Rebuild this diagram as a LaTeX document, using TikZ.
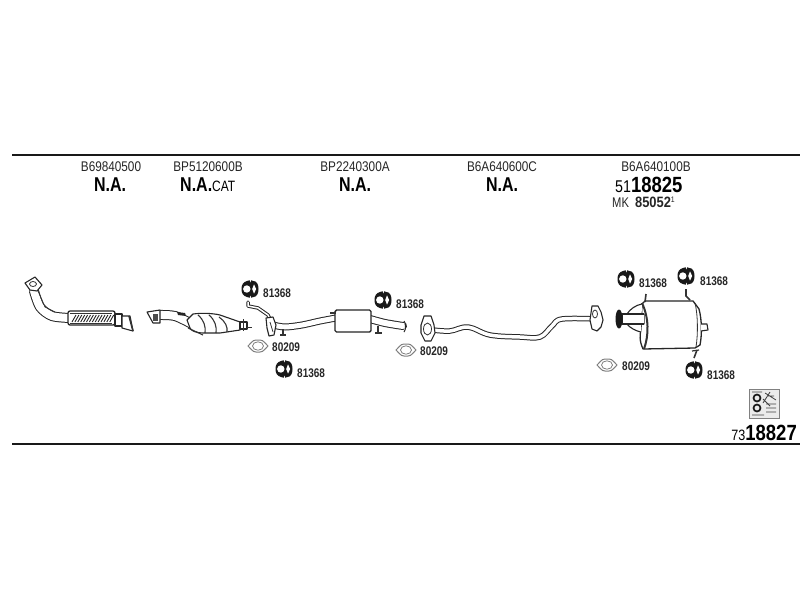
\documentclass[tikz,border=0pt]{standalone}
\usepackage{fontspec}
\setmainfont{Liberation Sans}
\newfontfamily\condf[FakeStretch=0.8]{Liberation Sans}
\newfontfamily\condg[FakeStretch=0.84]{Liberation Sans}
\newfontfamily\condh[FakeStretch=0.86]{Liberation Sans}
\newcommand{\tubepath}[2]{%
  \draw[line width=#1pt,black!85,line cap=round,line join=round] #2;
  \pgfmathsetmacro{\tubein}{#1-2}%
  \draw[line width=\tubein pt,white,line cap=round,line join=round] #2;}
\tikzset{
  x=1pt,y=-1pt,
  rule/.style={line width=2pt,black!90},
  partno/.style={inner sep=0pt,font=\condg\fontsize{14}{14}\selectfont,text=black!85},
  bignum/.style={inner sep=0pt,font=\condf\bfseries\fontsize{20}{20}\selectfont,text=black},
  hugenum/.style={inner sep=0pt,font=\condg\bfseries\fontsize{22}{22}\selectfont,text=black},
  lab/.style={inner sep=0pt,anchor=west,font=\condf\bfseries\fontsize{12.5}{12}\selectfont,text=black!85},
  part/.style={draw=black!85,line width=1.1pt,fill=white,line join=round},
  thin/.style={draw=black!80,line width=0.8pt},
  hanger/.pic={
    \fill[black!90] (-3,-8) .. controls (-1,-9.5) and (2,-9) .. (3.5,-8) .. controls (7,-8) and (8.5,-4) .. (8.5,0) .. controls (8.5,4) and (7,8) .. (3.5,8) .. controls (2,9) and (-1,9.5) .. (-3,8) .. controls (-7,7) and (-8.5,4) .. (-8.5,0) .. controls (-8.5,-4) and (-7,-7) .. (-3,-8) -- cycle;
    \fill[white] (-3.2,0) circle (3.7);
    \fill[white] (4,-4.6) -- (6.2,0) -- (4,4.6) -- (2.2,0) -- cycle;
    \fill[white] (-0.3,-9) -- (1.2,-9) -- (0.4,-6.5) -- cycle;
    \fill[white] (-0.3,9) -- (1.2,9) -- (0.4,6.5) -- cycle;
  },
  gasket/.pic={
    \draw[black!50,line width=1pt] (-10,0) .. controls (-7,-2) and (-6,-6) .. (-2,-6) -- (2,-6) .. controls (6,-6) and (7,-2) .. (10,0) .. controls (7,2) and (6,6) .. (2,6) -- (-2,6) .. controls (-6,6) and (-7,2) .. (-10,0) -- cycle;
    \draw[black!55,line width=0.7pt] (0,0) ellipse (5.5 and 4.2);
  },
}
\begin{document}
\begin{tikzpicture}
\useasboundingbox (0,0) rectangle (800,600);
\fill[white] (0,0) rectangle (800,600);
\draw[rule] (12,155) -- (800,155);
\draw[rule] (12,444) -- (800,444);

% header texts
\node[partno] (p1) at (111,167) {B69840500};
\node[partno] (p2) at (208,167) {BP5120600B};
\node[partno] (p3) at (355,167) {BP2240300A};
\node[partno] (p4) at (502,167) {B6A640600C};
\node[partno] (p5) at (656,167) {B6A640100B};
\node[bignum] (n1) at (110,185) {N.A.};
\node[bignum,anchor=west] (n2) at (180,185) {N.A.{\mdseries\fontsize{15}{15}\selectfont CAT}};
\node[bignum] (n3) at (355,184.5) {N.A.};
\node[bignum] (n4) at (502,185) {N.A.};
\node[hugenum,anchor=west] (n5) at (615,185) {{\mdseries\fontsize{17}{17}\selectfont 51}18825};
\node[lab,anchor=west,font=\condh\bfseries\fontsize{15}{13}\selectfont] (n6) at (612,202.5) {{\condf\mdseries\fontsize{14}{13}\selectfont MK} \,85052\raisebox{5pt}{\mdseries\fontsize{8}{8}\selectfont 1}};

% part 1: front pipe
\tubepath{10}{plot[smooth] coordinates {(34,291) (40,307) (52,316) (70,318)}}
\draw[thin] (38,291) -- (45,307) -- (55,312);
\draw[part] (25,283) -- (35,277) -- (42,285) -- (37,291) -- (30,290) -- cycle;
\fill[white] (33,284) ellipse (3.5 and 2.5);
\draw[thin] (33,284) ellipse (3.5 and 2.5);
\draw[part,line width=1.3pt,rounded corners=2pt] (68,311) rectangle (115,325);
\foreach \i in {0,...,13} {\draw[black!85,line width=0.9pt] (72+\i*2.9,322) -- (76+\i*2.9,315);}
\draw[thin] (70,313.5) -- (112,313.5) (70,323) -- (112,323);
\draw[part] (115,314) rectangle (122,326);
\draw[part] (122,316) -- (130,316) -- (133,331) -- (122,328) -- cycle;
\draw[thin,line width=1.6pt] (129,316) -- (133,331);

% part 2: catalyst
\tubepath{10}{plot[smooth] coordinates {(160,315) (175,316) (192,324)}}
\draw[part] (147,312) -- (160,310) -- (160,323) -- (153,323) -- cycle;
\fill[black!70] (153,314) rectangle (158,321);
\fill[black!85] (177,312) -- (185,313) -- (186,316) -- (178,315) -- cycle;
\draw[part] (187,320) -- (193,314) .. controls (200,313) and (212,313) .. (220,315) -- (240,322) -- (240,330) -- (220,333) -- (203,333) .. controls (197,333) and (191,331) .. (190,328) -- cycle;
\draw[thin,line width=1.1pt] (198,315) .. controls (204,320) and (206,327) .. (205,333);
\draw[thin,line width=1.1pt] (209,315) .. controls (215,320) and (217,327) .. (216,333);
\draw[thin,line width=1.1pt] (219,317) .. controls (225,321) and (228,327) .. (227,332);
\draw[part] (240,322) rectangle (247,329);
\draw[thin] (247,327) -- (252,327) (243,319) -- (243,331);
\draw[thin,line width=1.1pt] (188,328) -- (203,335);

% part 3: centre muffler
\tubepath{3.5}{(248,302) -- (248,306) -- (258,308) -- (268,315) -- (270,319)}
\tubepath{7}{plot[smooth] coordinates {(273,325) (285,327) (302,325) (320,321) (336,318)}}
\draw[part] (266,318) -- (273,317) -- (276,325) -- (274,335) -- (269,336) -- (267,328) -- cycle;
\draw[thin] (270,322) -- (273,332);
\draw[thin,line width=1.2pt] (283,329) -- (283,335) (280,335) -- (286,335);
\tubepath{8}{plot[smooth] coordinates {(370,319) (385,323) (403,326)}}
\draw[part,line width=1.4pt,rounded corners=1.5pt] (335,310) rectangle (371,332);
\draw[thin,line width=1.2pt] (378,326) -- (378,333) (375,333) -- (382,333);
\draw[part] (404,321) .. controls (406,323) and (406,330) .. (404,332);
\draw[thin,line width=1.2pt] (330,313) -- (336,313);

% part 4: intermediate pipe
\tubepath{5.5}{plot[smooth,tension=0.6] coordinates {(433,330) (450,331) (468,327) (490,335) (520,337) (540,337) (552,326) (562,319) (597,319)}}
\draw[part] (424,316) -- (431,316) -- (434,325) -- (435,333) -- (431,341) -- (425,341) -- (421,333) -- (421,325) -- cycle;
\fill[white] (427.5,329) ellipse (4 and 6);
\draw[thin] (427.5,329) ellipse (4 and 6);
\draw[part] (592,306) -- (598,306) -- (601,312) -- (603,320) -- (601,327) -- (597,331) -- (592,329) -- (590,320) -- cycle;
\draw[thin] (595,314) ellipse (2.5 and 4);

% part 5: rear muffler
\draw[part,line width=1.3pt] (645,301) -- (693,301) -- (699,309) .. controls (702,320) and (702,335) .. (700,345) -- (695,348) -- (643,349) .. controls (639,340) and (640,335) .. (641,329) -- (642,304) -- cycle;
\draw[thin] (695,303) .. controls (698,315) and (698,335) .. (696,347);
\draw[black!80,line width=2pt] (642,303) .. controls (649,318) and (649,335) .. (644,349);
\draw[part] (642,304) .. controls (636,305) and (630,309) .. (627,314) -- (644,314) -- (644,324) -- (627,324) .. controls (630,328) and (636,331) .. (641,332);
\draw[part] (644,314) -- (622,314) -- (622,324) -- (644,324);
\fill[black!90] (619,319) ellipse (3.5 and 9.5);
\draw[part] (701,324) -- (707,324) -- (708,330) -- (701,331);
\draw[thin,line width=1.6pt] (646,294) -- (645,302) (686,289) -- (686,296) -- (690,300) (697,350) -- (694,358);
\draw[thin,line width=1.2pt] (692,351) -- (699,350);

% hangers and labels
\pic at (250,289) {hanger};
\pic at (383,300) {hanger};
\pic at (284,369) {hanger};
\pic at (626,279) {hanger};
\pic at (686,276) {hanger};
\pic at (694,370) {hanger};
\node[lab] (h1) at (263,293) {81368};
\node[lab] (h2) at (396,304) {81368};
\node[lab] (h3) at (297,373) {81368};
\node[lab] (h4) at (639,283) {81368};
\node[lab] (h5) at (700,281) {81368};
\node[lab] (h6) at (707,375) {81368};

% gaskets and labels
\pic at (258,346) {gasket};
\pic at (406,350) {gasket};
\pic at (607,365) {gasket};
\node[lab] (g1) at (272,347) {80209};
\node[lab] (g2) at (420,351) {80209};
\node[lab] (g3) at (622,366) {80209};

% kit icon
\draw[black!50,fill=black!8,line width=0.8pt] (749,389) rectangle (779,418);
\draw[black!90,line width=1.7pt] (757,398) circle (3.5) (757,408) circle (3.5);
\draw[black!75,line width=0.8pt] (752,392) -- (762,392) (765,393) -- (776,400) (766,404) -- (776,404) (766,408) -- (776,408) (766,412) -- (776,412) (752,415) -- (764,415) (768,396) -- (774,396);
\draw[black!75,line width=0.8pt] (763,399) -- (770,406) (770,392) -- (763,403);

% catalogue number
\node[hugenum,anchor=east] (c1) at (797,433) {{\mdseries\fontsize{15}{15}\selectfont 73}18827};
\end{tikzpicture}
\end{document}
